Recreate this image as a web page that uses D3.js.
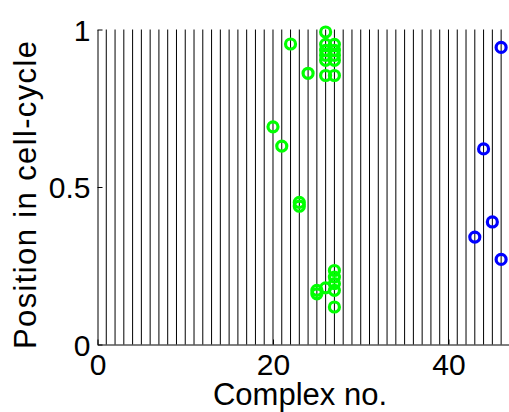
<!DOCTYPE html>
<html><head><meta charset="utf-8">
<script src="https://cdn.jsdelivr.net/npm/d3@7"></script>
<style>html,body{margin:0;padding:0;background:#fff;overflow:hidden}</style>
</head><body><svg id="c" width="509" height="412"></svg>
<script>
const nComplexes = 46;
const xTicks = [0, 20, 40];
const yTicks = [0, 0.5, 1];
const yTickLabels = ["0", "0.5", "1"];
const greenX = [20,21,22,23,23,24,25,25,26,26,26,26,26,26,26,27,27,27,27,27,27,27,27,27,27];
const greenY = [0.691,0.630,0.954,0.451,0.439,0.861,0.172,0.161,0.992,0.953,0.934,0.918,0.902,0.854,0.180,0.953,0.934,0.918,0.902,0.854,0.235,0.214,0.193,0.172,0.119];
const blueX = [43,44,45,46,46];
const blueY = [0.341,0.621,0.389,0.943,0.270];
const xLabel = "Complex no.";
const yLabel = "Position in cell-cycle";

const svg = d3.select("#c");
const x = d3.scaleLinear().domain([0, 47]).range([97.5, 509.9]);
const y = d3.scaleLinear().domain([0, 1]).range([344.5, 29.5]);
const font = "'Liberation Sans', Arial, sans-serif";

// vertical lines at each complex
svg.append("g").selectAll("line").data(d3.range(1, nComplexes + 1)).join("line")
  .attr("x1", d => x(d)).attr("x2", d => x(d))
  .attr("y1", y(0)).attr("y2", y(1))
  .attr("stroke", "#000").attr("stroke-width", 1);

// axes
const xAxis = d3.axisBottom(x).tickValues(xTicks).tickSizeInner(-5).tickSizeOuter(0).tickPadding(9);
const gx = svg.append("g").attr("transform", `translate(0,${y(0)})`).call(xAxis);
gx.select(".domain").attr("stroke", "#000");
gx.selectAll("text").attr("font-family", font).attr("font-size", 30).attr("fill", "#000").attr("dy", "0.71em");

const yAxis = d3.axisLeft(y).tickValues(yTicks).tickFormat((d, i) => yTickLabels[i]).tickSizeInner(-5).tickSizeOuter(0).tickPadding(7);
const gy = svg.append("g").attr("transform", `translate(${x(0)},0)`).call(yAxis);
gy.select(".domain").attr("stroke", "#000");
gy.selectAll("text").attr("font-family", font).attr("font-size", 30).attr("fill", "#000").attr("dy", "0.36em");

// points
const pts = svg.append("g");
pts.selectAll("circle.g").data(greenX.map((d, i) => [d, greenY[i]])).join("circle")
  .attr("class", "g").attr("cx", d => x(d[0])).attr("cy", d => y(d[1])).attr("r", 5)
  .attr("fill", "none").attr("stroke", "#00ff00").attr("stroke-width", 3.2);
pts.selectAll("circle.b").data(blueX.map((d, i) => [d, blueY[i]])).join("circle")
  .attr("class", "b").attr("cx", d => x(d[0])).attr("cy", d => y(d[1])).attr("r", 5)
  .attr("fill", "none").attr("stroke", "#0000ff").attr("stroke-width", 3.2);

// labels
svg.append("text").attr("x", 300).attr("y", 405).attr("text-anchor", "middle")
  .attr("font-family", font).attr("font-size", 31).text(xLabel);
svg.append("text").attr("transform", "translate(36,195) rotate(-90)").attr("text-anchor", "middle")
  .attr("font-family", font).attr("font-size", 31)
  .attr("textLength", 308).attr("lengthAdjust", "spacing").text(yLabel);
</script></body></html>
